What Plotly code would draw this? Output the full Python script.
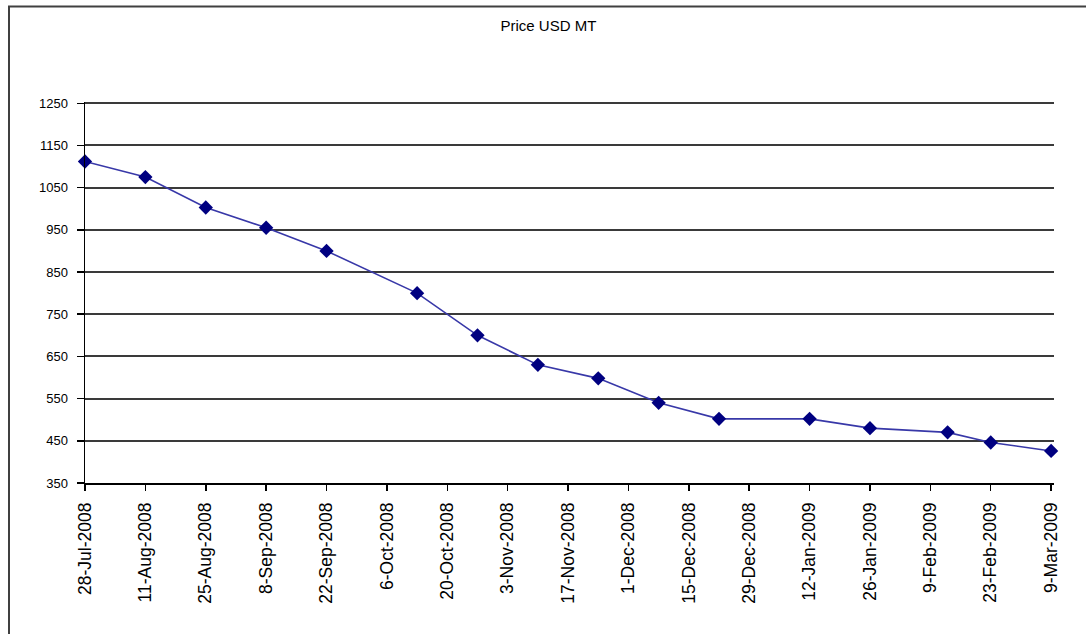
import plotly.graph_objects as go

dates = ["2008-07-28", "2008-08-11", "2008-08-25", "2008-09-08", "2008-09-22",
         "2008-10-13", "2008-10-27", "2008-11-10", "2008-11-24", "2008-12-08",
         "2008-12-22", "2009-01-12", "2009-01-26", "2009-02-13", "2009-02-23",
         "2009-03-09"]
prices = [1112, 1075, 1003, 955, 900, 800, 700, 630, 598, 540,
          502, 502, 480, 470, 446, 426]
y_ticks = [350, 450, 550, 650, 750, 850, 950, 1050, 1150, 1250]

fig = go.Figure()
fig.add_trace(go.Scatter(
    x=dates, y=prices, mode="lines+markers",
    line=dict(color="#3838a8", width=1.6),
    marker=dict(symbol="diamond", size=11, color="#000080",
                line=dict(width=0)),
    cliponaxis=False,
    showlegend=False,
))

fig.update_layout(
    width=1086, height=634,
    margin=dict(l=85, r=32, t=102, b=151),
    paper_bgcolor="white", plot_bgcolor="white",
    font=dict(family="Liberation Sans, Arial, sans-serif", color="black"),
    title=dict(text="Price USD MT", x=0.505, xref="container",
               y=0.96, yref="container", xanchor="center", yanchor="middle",
               font=dict(size=15, color="black")),
    xaxis=dict(
        type="date",
        range=["2008-07-28", "2009-03-09 16:00"],
        tick0="2008-07-28", dtick=14 * 86400000,
        tickformat="%-d-%b-%Y", tickangle=-90,
        ticks="outside", ticklen=6, tickwidth=1.5, tickcolor="black",
        showline=True, linecolor="black", linewidth=1.5,
        showgrid=False, zeroline=False,
        tickfont=dict(size=17.5, color="black"),
        ticklabelstandoff=5,
    ),
    yaxis=dict(
        range=[350, 1253],
        tickvals=y_ticks,
        ticks="outside", ticklen=7, tickwidth=1.5, tickcolor="black",
        showline=True, linecolor="black", linewidth=1.5,
        showgrid=True, gridcolor="#3a3a3a", gridwidth=2,
        zeroline=False,
        tickfont=dict(size=13, color="black"),
        ticklabelstandoff=6,
    ),
)

# outer chart border (chart area frame)
fig.add_shape(type="rect", xref="paper", yref="paper",
              x0=(9 - 85) / 969, x1=(1095 - 85) / 969,
              y0=(483 - 645) / 381, y1=(483 - 6.5) / 381,
              line=dict(color="#404040", width=2), fillcolor="rgba(0,0,0,0)",
              layer="below")

fig.write_html("out.html",
               config={"displayModeBar": False, "staticPlot": True},
               post_script="document.body.style.margin='0px';document.body.style.overflow='hidden';")
